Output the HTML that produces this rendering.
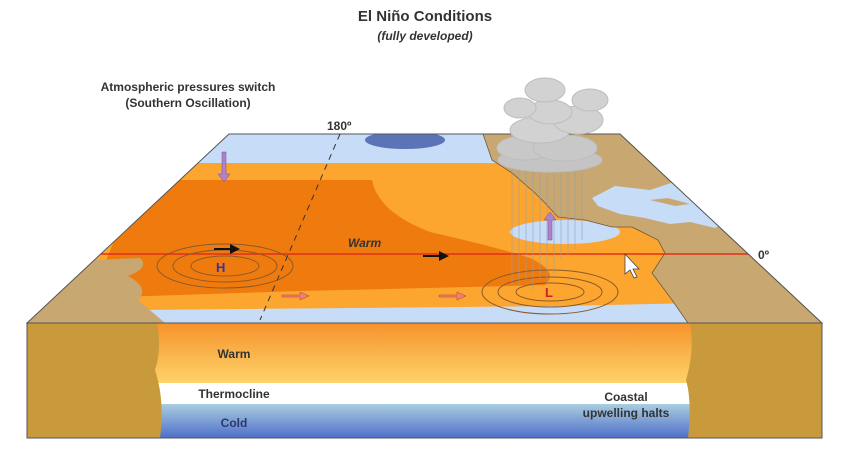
<!DOCTYPE html>
<html><head><meta charset="utf-8"><style>
body{margin:0;background:#fff;width:850px;height:451px;overflow:hidden}
svg{display:block}
text{font-family:"Liberation Sans",Arial,sans-serif;font-weight:bold}
</style></head><body>
<svg width="850" height="451" viewBox="0 0 850 451">
<defs>
<linearGradient id="wg" x1="0" y1="0" x2="0" y2="1"><stop offset="0" stop-color="#f7922c"/><stop offset="1" stop-color="#fdd36a"/></linearGradient>
<linearGradient id="cg" x1="0" y1="0" x2="0" y2="1"><stop offset="0" stop-color="#a9cde0"/><stop offset="1" stop-color="#4f6fc9"/></linearGradient>
<clipPath id="top"><polygon points="229,134 620,134 822,323 27,323"/></clipPath>
</defs>
<text x="425" y="21" font-size="15" text-anchor="middle" fill="#333">El Niño Conditions</text>
<text x="425" y="40" font-size="12" text-anchor="middle" fill="#333" font-style="italic">(fully developed)</text>
<text x="188" y="91" font-size="12" text-anchor="middle" fill="#333">Atmospheric pressures switch</text>
<text x="188" y="107" font-size="12" text-anchor="middle" fill="#333">(Southern Oscillation)</text>
<text x="327" y="130" font-size="12" fill="#333">180º</text>
<text x="758" y="259" font-size="12" fill="#333">0º</text>
<g clip-path="url(#top)">
<rect x="0" y="130" width="850" height="200" fill="#c6dcf7"/>
<ellipse cx="405" cy="140" rx="40" ry="9" fill="#5b74b8"/>
<path d="M150,163 L560,163 L700,230 L700,303 L560,306 L140,310 L60,300 Z" fill="#fca630"/>
<path d="M140,180 L372,180 Q378,212 430,232 Q500,248 530,258 Q560,272 545,285 L470,287 L300,291 L90,298 Z" fill="#ef7b0e"/>
<ellipse cx="565" cy="232" rx="55" ry="12" fill="#c6dcf7"/>
<path d="M95,260 L140,258 Q150,268 128,276 Q150,288 138,300 L165,323 L27,323 Z" fill="#c9a771"/>
<path d="M483,134 L620,134 L822,323 L688,323 L672,300 L652,273 L665,253 L658,240 L632,227 L612,227 L585,220 L558,217 L545,203 L535,193 L512,173 L492,160 Z" fill="#c9a771" stroke="#6b5a40" stroke-width="0.8"/>
<path d="M592,198 L615,186 L650,190 L680,180 L700,182 L730,220 L715,228 L690,222 L670,224 L645,218 L620,214 L598,206 Z" fill="#c6dcf7"/>
<path d="M650,200 L668,198 L690,204 L675,206 Z" fill="#c9a771"/>
<line x1="100" y1="254" x2="750" y2="254" stroke="#e0301b" stroke-width="1.5"/>
</g>
<polygon points="229,134 620,134 822,323 27,323" fill="none" stroke="#555" stroke-width="1"/>
<line x1="340" y1="134" x2="260" y2="320" stroke="#333" stroke-dasharray="6,5"/>
<g fill="none" stroke="#8a5a2a" stroke-width="1">
<ellipse cx="225" cy="266" rx="68" ry="22"/><ellipse cx="225" cy="266" rx="52" ry="16"/><ellipse cx="225" cy="266" rx="34" ry="10"/>
<ellipse cx="550" cy="292" rx="68" ry="22"/><ellipse cx="550" cy="292" rx="52" ry="15"/><ellipse cx="550" cy="292" rx="34" ry="9"/>
</g>
<g stroke="#8fa0b8" stroke-width="0.8" opacity="0.7">
<line x1="512" y1="165" x2="512" y2="285"/><line x1="519" y1="165" x2="519" y2="285"/><line x1="526" y1="165" x2="526" y2="280"/><line x1="533" y1="165" x2="533" y2="290"/><line x1="540" y1="165" x2="540" y2="280"/><line x1="547" y1="165" x2="547" y2="285"/><line x1="554" y1="165" x2="554" y2="275"/><line x1="561" y1="165" x2="561" y2="260"/><line x1="568" y1="165" x2="568" y2="255"/><line x1="575" y1="165" x2="575" y2="250"/><line x1="582" y1="165" x2="582" y2="240"/>
</g>
<g fill="#d2d2d2" stroke="#bdbdbd">
<ellipse cx="550" cy="160" rx="52" ry="12" fill="#c4c4c4"/><ellipse cx="525" cy="148" rx="28" ry="12" fill="#c8c8c8"/><ellipse cx="565" cy="148" rx="32" ry="13" fill="#c8c8c8"/>
<ellipse cx="540" cy="130" rx="30" ry="13"/><ellipse cx="578" cy="120" rx="25" ry="14"/><ellipse cx="550" cy="112" rx="22" ry="12"/><ellipse cx="590" cy="100" rx="18" ry="11"/><ellipse cx="545" cy="90" rx="20" ry="12"/><ellipse cx="520" cy="108" rx="16" ry="10"/>
</g>
<path d="M222,152 v22 l-4,0 l6,8 l6,-8 l-4,0 v-22 z" fill="#b083c8" stroke="#7a4a9a" stroke-width="0.5"/>
<path d="M548,240 v-20 l-4,0 l6,-8 l6,8 l-4,0 v20 z" fill="#b083c8" stroke="#7a4a9a" stroke-width="0.5"/>
<path d="M214,248 h16 v-4 l10,5 l-10,5 v-4 h-16 z" fill="#111"/>
<path d="M423,255 h16 v-4 l10,5 l-10,5 v-4 h-16 z" fill="#111"/>
<path d="M282,295 h18 v-3 l9,4 l-9,4 v-3 h-18 z" fill="#f08070" stroke="#b04030" stroke-width="0.5"/>
<path d="M439,295 h18 v-3 l9,4 l-9,4 v-3 h-18 z" fill="#f08070" stroke="#b04030" stroke-width="0.5"/>
<text x="216" y="272" font-size="13" fill="#3333aa">H</text>
<text x="545" y="297" font-size="13" fill="#cc2222">L</text>
<text x="348" y="247" font-size="12" fill="#333" font-style="italic">Warm</text>
<path d="M625,254 v20 l5,-4 l4,8 l3,-1 l-4,-8 l6,0 z" fill="#fff" stroke="#444" stroke-width="0.8"/>
<rect x="27" y="323" width="795" height="60" fill="url(#wg)"/>
<rect x="27" y="383" width="795" height="21" fill="#fff"/>
<rect x="27" y="404" width="795" height="34" fill="url(#cg)"/>
<path d="M27,323 L157,323 Q162,350 155,370 Q165,400 160,438 L27,438 Z" fill="#c99a3c"/>
<path d="M690,323 L822,323 L822,438 L688,438 Q692,400 686,380 Q695,350 690,323 Z" fill="#c99a3c"/>
<rect x="27" y="323" width="795" height="115" fill="none" stroke="#555"/>
<text x="234" y="358" font-size="12" text-anchor="middle" fill="#333">Warm</text>
<text x="234" y="398" font-size="12" text-anchor="middle" fill="#333">Thermocline</text>
<text x="234" y="427" font-size="12" text-anchor="middle" fill="#2a3a6a">Cold</text>
<text x="626" y="401" font-size="12" text-anchor="middle" fill="#333">Coastal</text>
<text x="626" y="417" font-size="12" text-anchor="middle" fill="#333">upwelling halts</text>
</svg>
</body></html>
